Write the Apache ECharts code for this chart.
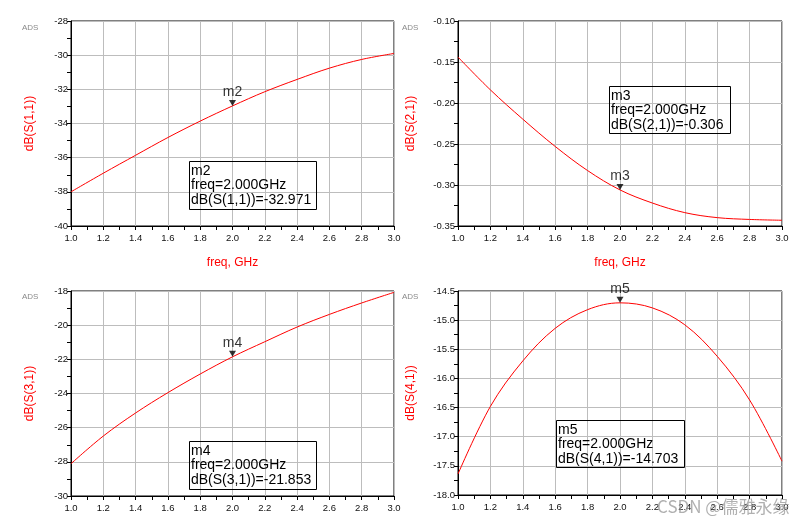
<!DOCTYPE html>
<html>
<head>
<meta charset="utf-8">
<script src="https://cdn.jsdelivr.net/npm/echarts@6/dist/echarts.min.js"></script>
<style>html,body{margin:0;padding:0;background:#fff;}#c{width:808px;height:526px;}</style>
</head>
<body>
<div id="c"></div>
<script>
// ---- data ----
var freq = [1.0, 1.2, 1.4, 1.6, 1.8, 2.0, 2.2, 2.4, 2.6, 2.8, 3.0];
var s11 = [-38.0, -36.91, -35.86, -34.82, -33.86, -32.971, -32.14, -31.42, -30.76, -30.25, -29.90];
var s21 = [-0.144, -0.184, -0.2197, -0.253, -0.2824, -0.306, -0.322, -0.3337, -0.3398, -0.342, -0.343];
var s31 = [-28.11, -26.49, -25.14, -23.95, -22.86, -21.853, -20.97, -20.11, -19.37, -18.70, -18.08];
var s41 = [-17.64, -16.48, -15.70, -15.14, -14.82, -14.703, -14.79, -15.08, -15.62, -16.37, -17.42];
var markerNames = ['m2', 'm3', 'm4', 'm5'];
var markerFreq = 2.0;
var markerValues = [-32.971, -0.306, -21.853, -14.703];
var traceNames = ['dB(S(1,1))', 'dB(S(2,1))', 'dB(S(3,1))', 'dB(S(4,1))'];
var yMin = [-40, -0.35, -30, -18.0];
var yMax = [-28, -0.10, -18, -14.5];
var yInterval = [2, 0.05, 2, 0.5];
var yDecimals = [0, 2, 0, 1];
var xName = 'freq, GHz';

var FONT = 'Liberation Sans, Arial, sans-serif';
var grids = [
  {left: 71, top: 21, width: 323, height: 205},
  {left: 458, top: 21, width: 324, height: 205},
  {left: 71, top: 291, width: 323, height: 205},
  {left: 458, top: 291, width: 324, height: 204}
];
var nameGaps = [35, 41, 35, 41];
var boxes = [
  {x: 189, y: 161, w: 127, h: 48},
  {x: 609, y: 86, w: 121, h: 47},
  {x: 189, y: 441, w: 127, h: 48},
  {x: 556, y: 420, w: 128, h: 47}
];
var adsPos = [[22, 28], [402, 28], [22, 297], [402, 297]];
var seriesData = [s11, s21, s31, s41];

var option = {
  animation: false,
  backgroundColor: '#fff',
  grid: grids.map(function (g) {
    return Object.assign({show: true, borderColor: '#000', borderWidth: 1, backgroundColor: 'transparent', containLabel: false}, g);
  }),
  xAxis: grids.map(function (g, i) {
    return {
      type: 'value', gridIndex: i, min: 1.0, max: 3.0, interval: 0.2,
      name: i < 2 ? xName : '',
      nameLocation: 'middle', nameGap: 31,
      nameTextStyle: {color: '#ff0000', fontSize: 12, fontFamily: FONT},
      axisLine: {show: true, lineStyle: {color: '#000', width: 1}},
      axisTick: {show: true, inside: false, length: 4, lineStyle: {color: '#000'}},
      minorTick: {show: true, splitNumber: 2, length: 4, lineStyle: {color: '#000'}},
      splitLine: {show: true, lineStyle: {color: '#bdbdbd', width: 1}},
      axisLabel: {color: '#111', fontSize: 9.5, fontFamily: FONT, margin: 7,
        formatter: function (v) { return v.toFixed(1); }}
    };
  }),
  yAxis: grids.map(function (g, i) {
    return {
      type: 'value', gridIndex: i, min: yMin[i], max: yMax[i], interval: yInterval[i],
      name: traceNames[i], nameLocation: 'middle', nameRotate: 90, nameGap: nameGaps[i],
      nameTextStyle: {color: '#ff0000', fontSize: 12, fontFamily: FONT},
      axisLine: {show: true, lineStyle: {color: '#000', width: 1}},
      axisTick: {show: true, inside: false, length: 4, lineStyle: {color: '#000'}},
      minorTick: {show: true, splitNumber: 2, length: 4, lineStyle: {color: '#000'}},
      splitLine: {show: true, lineStyle: {color: '#bdbdbd', width: 1}},
      axisLabel: {color: '#111', fontSize: 9.5, fontFamily: FONT, margin: 3,
        formatter: (function (d) { return function (v) { return v.toFixed(d); }; })(yDecimals[i])}
    };
  }),
  series: [],
  graphic: []
};

seriesData.forEach(function (arr, i) {
  option.series.push({
    type: 'line', xAxisIndex: i, yAxisIndex: i,
    data: freq.map(function (f, k) { return [f, arr[k]]; }),
    smooth: 0.35, showSymbol: false, symbol: 'none',
    lineStyle: {color: '#ff0000', width: 1}
  });
  option.series.push({
    type: 'scatter', xAxisIndex: i, yAxisIndex: i, z: 5,
    data: [[markerFreq, markerValues[i]]],
    symbol: 'triangle', symbolRotate: 180, symbolSize: [7, 6], symbolOffset: [0, -3],
    itemStyle: {color: '#000'},
    label: {show: true, position: 'top', distance: 1, formatter: markerNames[i],
      color: '#000', fontSize: 14, fontFamily: FONT}
  });
  var b = boxes[i];
  var txt = markerNames[i] + '\nfreq=' + markerFreq.toFixed(3) + 'GHz\n' + traceNames[i] + '=' + markerValues[i].toFixed(3);
  option.graphic.push({
    type: 'rect', z: 100, shape: {x: b.x + 0.5, y: b.y + 0.5, width: b.w, height: b.h},
    style: {fill: 'rgba(255,255,255,0)', stroke: '#000', lineWidth: 1}
  });
  option.graphic.push({
    type: 'text', z: 101,
    style: {x: b.x + 2, y: b.y + 2.5, text: txt, fill: '#000',
      font: '14px ' + FONT, lineHeight: 14.5, verticalAlign: 'top'}
  });
  option.graphic.push({
    type: 'text', z: 100,
    style: {x: adsPos[i][0], y: adsPos[i][1], text: 'ADS', fill: '#8a8a8a',
      font: '8px ' + FONT, verticalAlign: 'middle'}
  });
});

option.graphic.push({
  type: 'text', z: 200,
  style: {x: 657, y: 507, text: 'CSDN @儒雅永缘', fill: 'rgba(150,150,150,0.75)',
    font: '17px "Noto Sans CJK SC", ' + FONT, verticalAlign: 'middle'}
});

var chart = echarts.init(document.getElementById('c'), null, {renderer: 'canvas'});
chart.setOption(option);
</script>
</body>
</html>
